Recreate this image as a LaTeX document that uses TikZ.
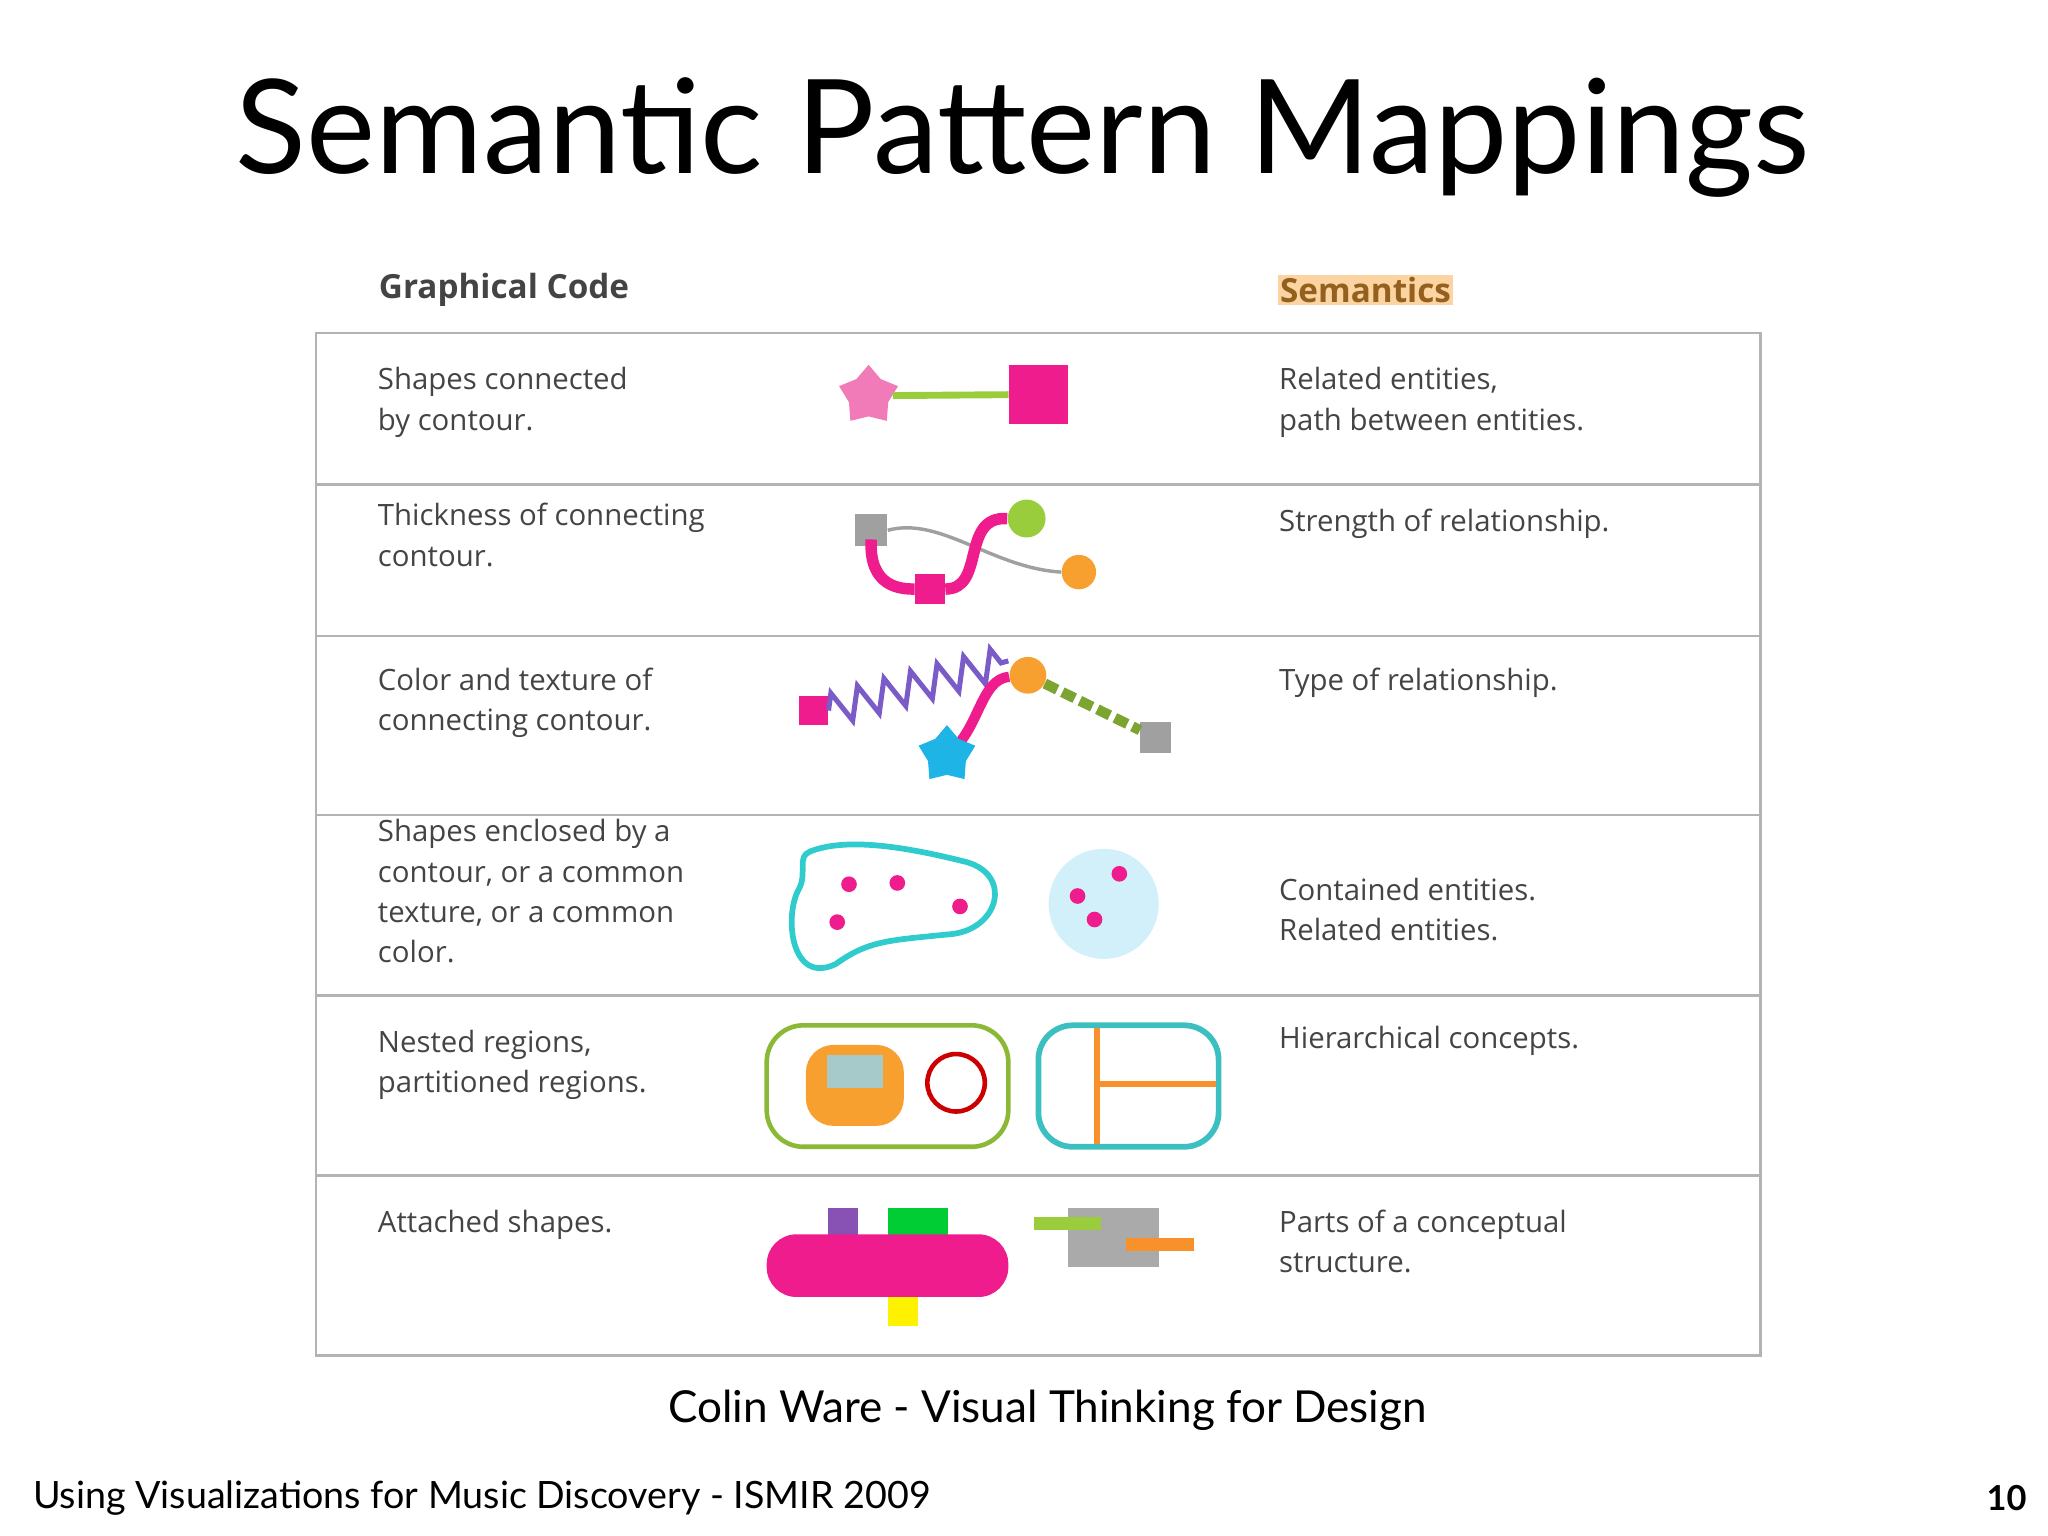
\documentclass[tikz,border=0pt]{standalone}
\usepackage{fontspec}
\setmainfont{Lato}
\newfontfamily\bodyf{Open Sans}
\usetikzlibrary{shapes.geometric,decorations.pathmorphing}
\definecolor{mag}{HTML}{EE1C8C}
\definecolor{pinkst}{HTML}{F07BB8}
\definecolor{lgreen}{HTML}{9ACD3C}
\definecolor{gry}{HTML}{A0A0A0}
\definecolor{orng}{HTML}{F7A030}
\definecolor{purp}{HTML}{7B5BC8}
\definecolor{cyn}{HTML}{1EB4E6}
\definecolor{teal1}{HTML}{3CBFC0}
\definecolor{txt}{HTML}{444444}
\begin{document}
\begin{tikzpicture}[x=0.02cm,y=-0.02cm,
  body/.style={anchor=north west,align=left,font=\bodyf\fontsize{12.8}{17.6}\selectfont,text=txt,inner sep=0pt},
  hdr/.style={anchor=west,font=\bodyf\bfseries\fontsize{14.5}{17}\selectfont,text=txt,inner sep=1pt}]
\useasboundingbox (0,0) rectangle (1568,1176);
\node (title) at (783,105) {\fontsize{57}{60}\selectfont Semantic Pattern Mappings};
\node[hdr] (h1) at (288,222) {Graphical Code};
\node[hdr,fill=orng!45,text=orng!60!black] (h2) at (978,222) {Semantics};
\draw[gry!80,line width=1.2pt] (242,255) rectangle (1348,1038);
\foreach \y in {371,487,624,762,900} \draw[gry!80,line width=1.2pt] (242,\y) -- (1348,\y);
% texts
\node[body] (l1) at (289,281) {Shapes connected\\by contour.};
\node[body] (r1) at (979,281) {Related entities,\\path between entities.};
\node[body] (l2) at (289,385) {Thickness of connecting\\contour.};
\node[body] (r2) at (979,389) {Strength of relationship.};
\node[body] (l3) at (289,511) {Color and texture of\\connecting contour.};
\node[body] (r3) at (979,511) {Type of relationship.};
\node[body] (l4) at (289,627) {Shapes enclosed by a\\contour, or a common\\texture, or a common\\color.};
\node[body] (r4) at (979,672) {Contained entities.\\Related entities.};
\node[body] (l5) at (289,788) {Nested regions,\\partitioned regions.};
\node[body] (r5) at (979,785) {Hierarchical concepts.};
\node[body] (l6) at (289,926) {Attached shapes.};
\node[body] (r6) at (979,926) {Parts of a conceptual\\structure.};
% row1
\node[star,star points=5,fill=pinkst,minimum size=27pt,inner sep=0pt] (s1) at (665,303) {};
\node[fill=mag,minimum size=25.5pt,inner sep=0pt] (q1) at (795,302) {};
\draw[lgreen,line width=3pt] (s1) -- (q1);
% row2
\node[fill=gry,minimum size=14pt,inner sep=0pt] (g2) at (667,406) {};
\node[fill=mag,minimum size=13pt,inner sep=0pt] (m2) at (712,451) {};
\node[circle,fill=lgreen,minimum size=16.5pt,inner sep=0pt] (c2) at (786,397) {};
\node[circle,fill=orng,minimum size=15pt,inner sep=0pt] (o2) at (826,438) {};
\draw[gry,line width=1.5pt] (g2.east) .. controls (720,395) and (760,435) .. (o2.west);
\draw[mag,line width=5pt] (667,413) .. controls (665,450) and (690,451) .. (m2.west);
\draw[mag,line width=5pt] (m2.east) .. controls (755,451) and (735,395) .. (c2.west);
% row3
\node[fill=mag,minimum size=12.5pt,inner sep=0pt] (m3) at (623,544) {};
\node[fill=gry,minimum size=13.5pt,inner sep=0pt] (g3) at (885,565) {};
\node[circle,fill=orng,minimum size=16pt,inner sep=0pt] (o3) at (787,517) {};
\draw[purp,line width=2.2pt,decorate,decoration={zigzag,segment length=12pt,amplitude=7pt}] (m3.east) -- (772,506);
\draw[lgreen!80!black,line width=4.5pt,dash pattern=on 6pt off 2.5pt] (o3) -- (g3);
\draw[mag,line width=4.5pt] (725,578) .. controls (750,560) and (750,520) .. (o3);
\node[star,star points=5,fill=cyn,minimum size=26pt,inner sep=0pt] (s3) at (725,578) {};
% row4
\draw[teal1!80!cyan,line width=2.5pt] (620,652) .. controls (650,640) and (700,650) .. (740,660) .. controls (775,670) and (765,710) .. (730,715)
  .. controls (680,720) and (665,720) .. (640,738) .. controls (605,755) and (600,700) .. (612,680) .. controls (618,668) and (610,656) .. (620,652) -- cycle;
\foreach \p in {(650,677),(687,676),(735,694),(641,706)} \fill[mag] \p circle (6);
\node[circle,fill=cyn!20,minimum size=48pt,inner sep=0pt] (bc) at (845,692) {};
\foreach \p in {(857,669),(825,686),(838,704)} \fill[mag] \p circle (6);
% row5
\draw[lgreen!90!black,line width=2pt,rounded corners=16pt] (587,785) rectangle (772,878);
\fill[orng,rounded corners=12pt] (617,800) rectangle (692,862);
\fill[gry!80!cyan!70] (633,808) rectangle (676,833);
\draw[red!80!black,line width=2pt] (732,829) circle (22);
\draw[teal1,line width=2.5pt,rounded corners=15pt] (795,785) rectangle (933,878);
\draw[orng!90!red,line width=2.5pt] (840,787) -- (840,876);
\draw[orng!90!red,line width=2.5pt] (840,830) -- (931,830);
% row6
\fill[purp!90!red] (634,925) rectangle (657,948);
\fill[green!60!teal] (680,925) rectangle (726,948);
\fill[yellow] (680,990) rectangle (703,1015);
\fill[mag,rounded corners=13pt] (587,945) rectangle (772,993);
\fill[gry!90] (818,925) rectangle (887,970);
\fill[lgreen] (792,932) rectangle (843,942);
\fill[orng!90!red] (862,948) rectangle (914,958);
% footer
\node (cap) at (802,1080) {\fontsize{19.2}{24}\selectfont Colin Ware - Visual Thinking for Design};
\node[anchor=west,inner sep=0pt] (foot) at (25,1147) {\fontsize{16.4}{18}\selectfont Using Visualizations for Music Discovery - ISMIR 2009};
\node[anchor=east,inner sep=0pt] (pg) at (1552,1147) {\fontsize{15}{18}\selectfont\bfseries 10};
\end{tikzpicture}
\end{document}
